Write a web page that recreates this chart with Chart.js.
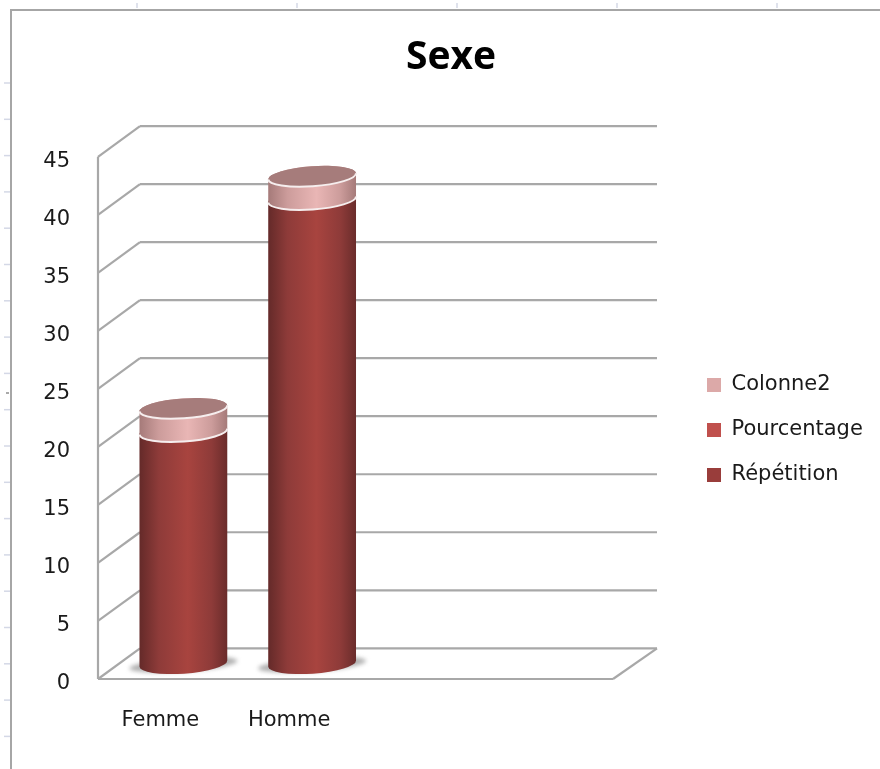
<!DOCTYPE html>
<html>
<head>
<meta charset="utf-8">
<script src="https://cdn.jsdelivr.net/npm/chart.js@4"></script>
<style>
  html, body { margin: 0; padding: 0; background: #fff; overflow: hidden; }
  canvas { display: block; filter: blur(0.6px); }
</style>
</head>
<body>
<canvas id="sexeChart" width="880" height="769"></canvas>
<script>
const categories = ["Femme", "Homme", "", ""];
const repetition = [20, 40, null, null];
const pourcentage = [0, 0, null, null];
const colonne2 = [2, 2, null, null];
const yTicks = [0, 5, 10, 15, 20, 25, 30, 35, 40, 45];

const titleFont = "'Open Sans', sans-serif";
const labelFont = "'DejaVu Sans', sans-serif";

// decalage de la perspective 3D
const depthX = 42;
const depthY = 30.7;
const radiusX = 44;
const radiusY = 10;
const tilt = -0.07;

const gridColor = "#a8a8a8";
const sideStops = [
  ["#642a29", "#8e3b39", "#a8443f", "#8e3b39", "#6a2c2b"],
  ["#a04a47", "#b85a56", "#cf6a66", "#b85a56", "#a04a47"],
  ["#a57a79", "#cc9c9b", "#e9b6b5", "#cc9c9b", "#a57a79"],
];
const stopOffsets = [0, 0.22, 0.55, 0.82, 1];

function line(ctx, x1, y1, x2, y2) {
  ctx.beginPath();
  ctx.moveTo(x1, y1);
  ctx.lineTo(x2, y2);
  ctx.stroke();
}

// bord de la feuille derriere le graphique
function drawSheet(ctx) {
  ctx.save();
  ctx.strokeStyle = "#a6a6a6";
  ctx.lineWidth = 2;
  line(ctx, 11, 10, 880, 10);
  line(ctx, 11, 9, 11, 769);
  ctx.strokeStyle = "#d4d8e6";
  ctx.lineWidth = 1.5;
  [137, 297, 457, 617, 777].forEach((x) => line(ctx, x, 3, x, 8));
  for (let y = 83; y < 769; y += 36.3) line(ctx, 4, y, 10, y);
  ctx.strokeStyle = "#555";
  ctx.lineWidth = 1;
  line(ctx, 6, 393, 9, 393);
  ctx.restore();
}

function drawWalls(chart) {
  const { ctx, chartArea } = chart;
  const yScale = chart.scales.y;
  const { left, right, bottom, top } = chartArea;
  ctx.save();
  ctx.strokeStyle = gridColor;
  ctx.lineWidth = 2.2;
  yTicks.forEach((tick) => {
    const y = yScale.getPixelForValue(tick);
    line(ctx, left, y, left + depthX, y - depthY);
    line(ctx, left + depthX, y - depthY, right + depthX + 2, y - depthY);
  });
  line(ctx, left, top, left, bottom);
  line(ctx, left, bottom, right, bottom);
  line(ctx, right, bottom, right + depthX + 2, bottom - depthY);
  ctx.restore();
}

function drawCylinder(chart, index) {
  const { ctx } = chart;
  let capY = null;
  let cx = 0;
  chart.data.datasets.forEach((dataset, d) => {
    const bar = chart.getDatasetMeta(d).data[index];
    if (!dataset.data[index]) return;
    cx = bar.x + depthX / 2;
    const yTop = bar.y - depthY / 2;
    const yBase = bar.base - depthY / 2;
    const isFirst = capY === null;

    if (isFirst) {
      ctx.save();
      ctx.filter = "blur(2px)";
      ctx.fillStyle = "#b0b0b0";
      ctx.beginPath();
      ctx.ellipse(cx, yBase + 1, radiusX + 10, 7, tilt, 0, Math.PI * 2);
      ctx.fill();
      ctx.restore();
    }

    const gradient = ctx.createLinearGradient(cx - radiusX, 0, cx + radiusX, 0);
    stopOffsets.forEach((offset, s) => gradient.addColorStop(offset, sideStops[d][s]));
    ctx.fillStyle = gradient;
    ctx.beginPath();
    ctx.ellipse(cx, yBase, radiusX, radiusY, tilt, 0, Math.PI);
    ctx.ellipse(cx, yTop, radiusX, radiusY, tilt, Math.PI, Math.PI * 2);
    ctx.closePath();
    ctx.fill();

    if (!isFirst) {
      ctx.strokeStyle = "#f6eeee";
      ctx.lineWidth = 2;
      ctx.beginPath();
      ctx.ellipse(cx, yBase, radiusX, radiusY, tilt, 0, Math.PI);
      ctx.stroke();
    }
    capY = yTop;
  });

  if (capY !== null) {
    ctx.fillStyle = "#a67c7b";
    ctx.beginPath();
    ctx.ellipse(cx, capY, radiusX, radiusY, tilt, 0, Math.PI * 2);
    ctx.fill();
    ctx.strokeStyle = "#f6eeee";
    ctx.lineWidth = 2;
    ctx.beginPath();
    ctx.ellipse(cx, capY, radiusX, radiusY, tilt, 0, Math.PI);
    ctx.stroke();
  }
}

const cylinderPlugin = {
  id: "cylinder3d",
  beforeLayout(chart) {
    // la legende garde la place a droite du mur
    const legend = chart.legend;
    if (!legend.fitPatched) {
      const fit = legend.fit;
      legend.fit = function () {
        fit.call(this);
        this.width = 267;
      };
      legend.fitPatched = true;
    }
  },
  afterLayout(chart) {
    const legend = chart.legend;
    const shift = 430 - (legend.top + legend.bottom) / 2;
    legend.top += shift;
    legend.bottom += shift;
    legend.left = chart.chartArea.right + 70;
  },
  beforeDatasetsDraw(chart) {
    drawSheet(chart.ctx);
    drawWalls(chart);
    categories.forEach((name, i) => {
      if (name) drawCylinder(chart, i);
    });
    return false; // les barres plates ne sont pas dessinees
  },
};

new Chart(document.getElementById("sexeChart"), {
  type: "bar",
  data: {
    labels: categories,
    datasets: [
      { label: "Répétition", data: repetition, backgroundColor: "#993d3b" },
      { label: "Pourcentage", data: pourcentage, backgroundColor: "#c0504d" },
      { label: "Colonne2", data: colonne2, backgroundColor: "#dca9a8" },
    ],
  },
  plugins: [cylinderPlugin],
  options: {
    responsive: false,
    animation: false,
    layout: { padding: { left: 22 } },
    plugins: {
      title: {
        display: true,
        text: "Sexe",
        color: "#000",
        font: { family: titleFont, size: 39, weight: "bold" },
        padding: { top: 34, bottom: 76 },
      },
      legend: {
        position: "right",
        reverse: true,
        labels: {
          color: "#1a1a1a",
          font: { family: labelFont, size: 21 },
          boxWidth: 14,
          boxHeight: 14,
          padding: 24,
        },
      },
      tooltip: { enabled: false },
    },
    scales: {
      x: {
        stacked: true,
        afterFit(scale) { scale.height = 90; },
        grid: { display: false },
        border: { display: false },
        ticks: {
          color: "#1a1a1a",
          font: { family: labelFont, size: 21 },
          padding: 21,
          labelOffset: -2,
          maxRotation: 0,
          autoSkip: false,
        },
      },
      y: {
        stacked: true,
        min: 0,
        max: 45,
        afterFit(scale) { scale.width = 76; },
        grid: { display: false },
        border: { display: false },
        ticks: {
          stepSize: 5,
          color: "#1a1a1a",
          font: { family: labelFont, size: 21 },
          padding: 20,
          labelOffset: 5,
        },
      },
    },
  },
});
</script>
</body>
</html>
